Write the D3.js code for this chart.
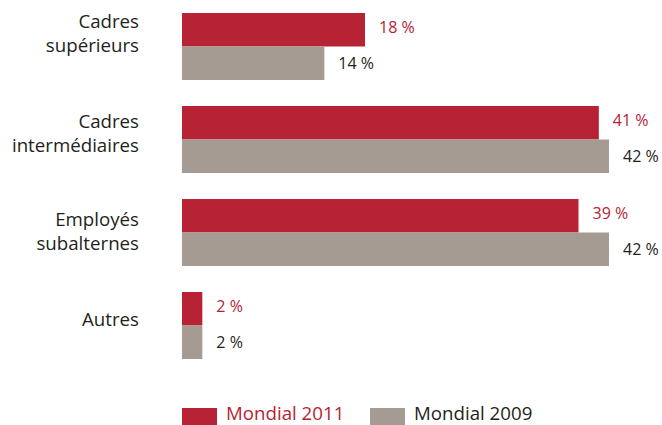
<!DOCTYPE html>
<html>
<head>
<meta charset="utf-8">
<script src="https://cdn.jsdelivr.net/npm/d3@7"></script>
<style>
  body { margin: 0; background: #fff; }
  svg text { font-family: "Open Sans", sans-serif; }
</style>
</head>
<body>
<div class="container"></div>
<script>
var categories = [["Cadres", "supérieurs"], ["Cadres", "intermédiaires"], ["Employés", "subalternes"], ["Autres"]];
var seriesNames = ["Mondial 2011", "Mondial 2009"];
var values2011 = [18, 41, 39, 2];
var values2009 = [14, 42, 42, 2];

const WIDTH = 662;
const HEIGHT = 425;
var colors = ["#B72334", "#A69B92"];
var textColors = ["#B72334", "#231F20"];
var labelShift = [-12, -5, 0, -6];

var visualize = function () {
    var svg = d3.select('.container').append('svg')
        .attr('width', WIDTH)
        .attr('height', HEIGHT);

    var keys = categories.map(function (c) { return c.join(' '); });
    var series = [values2011, values2009];

    var xScale = d3.scaleLinear().domain([0, 42]).range([182, 609]);
    var yScale = d3.scaleBand().domain(keys).range([13, 359]).paddingInner(26 / 93);
    var innerScale = d3.scaleBand().domain(seriesNames).range([0, yScale.bandwidth()]);

    var groups = svg.selectAll('g.group')
        .data(keys)
        .enter()
        .append('g')
        .classed('group', true)
        .attr('transform', function (d) {
            return 'translate(0,' + yScale(d) + ')';
        });

    groups.each(function (key, i) {
        var g = d3.select(this);
        seriesNames.forEach(function (name, s) {
            var v = series[s][i];
            g.append('rect')
                .attr('x', xScale(0))
                .attr('y', innerScale(name))
                .attr('width', xScale(v) - xScale(0))
                .attr('height', innerScale.bandwidth())
                .style('fill', colors[s]);
            g.append('text')
                .attr('x', xScale(v) + 14)
                .attr('y', innerScale(name) + innerScale.bandwidth() / 2 + (s == 0 ? 3 : 6))
                .style('font-size', '16px')
                .style('fill', textColors[s])
                .text(v + ' %');
        });

        var lines = categories[i];
        var mid = yScale.bandwidth() / 2 + labelShift[i];
        var label = g.append('text')
            .attr('text-anchor', 'end')
            .style('font-size', '18.7px')
            .style('fill', '#231F20');
        lines.forEach(function (line, j) {
            var base = lines.length == 1 ? mid + 6 : mid - 6.5 + j * 24;
            label.append('tspan')
                .attr('x', 139)
                .attr('y', base)
                .text(line);
        });
    });

    var legend = svg.append('g').classed('legend', true);
    var legendX = [182, 370];
    seriesNames.forEach(function (name, s) {
        legend.append('rect')
            .attr('x', legendX[s])
            .attr('y', 408)
            .attr('width', 35)
            .attr('height', 17)
            .style('fill', colors[s]);
        legend.append('text')
            .attr('x', legendX[s] + 44)
            .attr('y', 420)
            .style('font-size', '18.7px')
            .style('fill', textColors[s])
            .text(name);
    });
};

window.onload = visualize;
</script>
</body>
</html>
